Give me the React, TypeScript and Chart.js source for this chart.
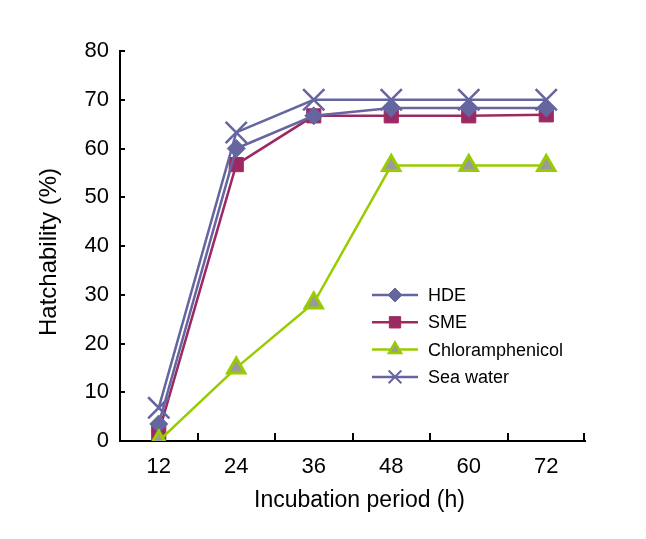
import React, { useEffect, useRef } from "react";
import { Chart, registerables } from "chart.js";

Chart.register(...registerables);

const categories = ["12", "24", "36", "48", "60", "72"];
const hde = [3.5, 60, 66.7, 68.3, 68.3, 68.3];
const sme = [1.7, 56.7, 66.7, 66.7, 66.7, 66.9];
const chloramphenicol = [0, 15, 28.3, 56.5, 56.5, 56.5];
const seaWater = [6.8, 63.3, 70, 70, 70, 70];
const yTicks = [0, 10, 20, 30, 40, 50, 60, 70, 80];
const xTitle = "Incubation period (h)";
const yTitle = "Hatchability (%)";

const BLUE = "#6565a0";
const MAROON = "#9c2a62";
const GREEN = "#99cc00";
const GRAY = "#9a9a9a";
const FONT = "'Liberation Sans', Arial, sans-serif";

function drawMarker(ctx: CanvasRenderingContext2D, style: string, x: number, y: number, r: number, fill: string, stroke: string, bw: number) {
  ctx.save();
  ctx.fillStyle = fill;
  ctx.strokeStyle = stroke;
  ctx.lineWidth = bw;
  ctx.beginPath();
  if (style === "rectRot") {
    ctx.moveTo(x, y - r);
    ctx.lineTo(x + r, y);
    ctx.lineTo(x, y + r);
    ctx.lineTo(x - r, y);
    ctx.closePath();
    ctx.fill();
    ctx.stroke();
  } else if (style === "rect") {
    const s = r * Math.SQRT1_2;
    ctx.rect(x - s, y - s, 2 * s, 2 * s);
    ctx.fill();
    ctx.stroke();
  } else if (style === "triangle") {
    const h = r * 0.866;
    ctx.moveTo(x, y - r);
    ctx.lineTo(x + h, y + r / 2);
    ctx.lineTo(x - h, y + r / 2);
    ctx.closePath();
    ctx.fill();
    ctx.stroke();
  } else if (style === "crossRot") {
    const s = r * Math.SQRT1_2;
    ctx.moveTo(x - s, y - s);
    ctx.lineTo(x + s, y + s);
    ctx.moveTo(x + s, y - s);
    ctx.lineTo(x - s, y + s);
    ctx.stroke();
  }
  ctx.restore();
}

const customPlugin = {
  id: "custom",
  afterDatasetsDraw(chart: any) {
    const ctx: CanvasRenderingContext2D = chart.ctx;
    const area = chart.chartArea;
    const xs = chart.scales.x;
    const ys = chart.scales.y;
    ctx.save();
    ctx.strokeStyle = "#000";
    ctx.lineWidth = 2;
    // y tick marks (inside)
    yTicks.forEach((v) => {
      if (v === 0) return;
      const py = Math.round(ys.getPixelForValue(v));
      ctx.beginPath();
      ctx.moveTo(area.left, py);
      ctx.lineTo(area.left + 5, py);
      ctx.stroke();
    });
    // x tick marks at category boundaries (inside)
    for (let i = 0; i < categories.length; i++) {
      let px;
      if (i < categories.length - 1) px = (xs.getPixelForValue(i) + xs.getPixelForValue(i + 1)) / 2;
      else px = area.right - 1;
      px = Math.round(px);
      ctx.beginPath();
      ctx.moveTo(px, area.bottom);
      ctx.lineTo(px, area.bottom - 8);
      ctx.stroke();
    }
    ctx.restore();

    // axis titles
    ctx.save();
    ctx.fillStyle = "#000";
    ctx.font = `23px ${FONT}`;
    ctx.textAlign = "center";
    ctx.textBaseline = "middle";
    ctx.fillText(xTitle, (area.left + area.right) / 2 + 7, area.bottom + 60);
    ctx.translate(49, (area.top + area.bottom) / 2 + 6);
    ctx.rotate(-Math.PI / 2);
    ctx.font = `24px ${FONT}`;
    ctx.fillText(yTitle, 0, 0);
    ctx.restore();

    // legend
    const rows = [
      { label: "HDE", color: BLUE, style: "rectRot", fill: BLUE, r: 7, bw: 1 },
      { label: "SME", color: MAROON, style: "rect", fill: MAROON, r: 8, bw: 1 },
      { label: "Chloramphenicol", color: GREEN, style: "triangle", fill: GRAY, r: 7, bw: 2.5 },
      { label: "Sea water", color: BLUE, style: "crossRot", fill: BLUE, r: 9, bw: 2 },
    ];
    const lx0 = 372;
    const lx1 = 418;
    const tx = 428;
    const y0 = 295;
    const dy = 27.3;
    rows.forEach((row, i) => {
      const y = y0 + i * dy;
      ctx.save();
      ctx.strokeStyle = row.color;
      ctx.lineWidth = 2.5;
      ctx.beginPath();
      ctx.moveTo(lx0, y);
      ctx.lineTo(lx1, y);
      ctx.stroke();
      ctx.restore();
      drawMarker(ctx, row.style, (lx0 + lx1) / 2, y, row.r, row.fill, row.color, row.bw);
      ctx.save();
      ctx.fillStyle = "#000";
      ctx.font = `18px ${FONT}`;
      ctx.textBaseline = "middle";
      ctx.textAlign = "left";
      ctx.fillText(row.label, tx, y + 1);
      ctx.restore();
    });
  },
};

export default function App() {
  const ref = useRef<HTMLCanvasElement | null>(null);

  useEffect(() => {
    if (!ref.current) return;
    const chart = new Chart(ref.current, {
      type: "line",
      data: {
        labels: categories,
        datasets: [
          {
            label: "HDE",
            data: hde,
            borderColor: BLUE,
            backgroundColor: BLUE,
            pointStyle: "rectRot",
            pointRadius: 9,
            pointBorderWidth: 1,
            borderWidth: 2.5,
            order: 2,
          },
          {
            label: "SME",
            data: sme,
            borderColor: MAROON,
            backgroundColor: MAROON,
            pointStyle: "rect",
            pointRadius: 10,
            pointBorderWidth: 1,
            borderWidth: 2.5,
            order: 3,
          },
          {
            label: "Chloramphenicol",
            data: chloramphenicol,
            borderColor: GREEN,
            backgroundColor: GRAY,
            pointBorderColor: GREEN,
            pointStyle: "triangle",
            pointRadius: 10,
            pointBorderWidth: 3,
            borderWidth: 2.5,
            order: 1,
          },
          {
            label: "Sea water",
            data: seaWater,
            borderColor: BLUE,
            backgroundColor: BLUE,
            pointStyle: "crossRot",
            pointRadius: 15,
            pointBorderWidth: 2.5,
            borderWidth: 2.5,
            order: 0,
          },
        ],
      },
      options: {
        responsive: true,
        maintainAspectRatio: false,
        animation: false,
        layout: { padding: { left: 0, right: 61, top: 51, bottom: 0 } },
        plugins: {
          legend: { display: false },
          tooltip: { enabled: false },
        },
        scales: {
          x: {
            type: "category",
            offset: true,
            grid: { display: false, drawTicks: false, offset: true },
            border: { display: true, color: "#000", width: 2 },
            ticks: { color: "#000", font: { size: 22, family: FONT }, padding: 13 },
            title: { display: false },
            afterFit: (scale: any) => {
              scale.height = 98;
            },
          },
          y: {
            min: 0,
            max: 80,
            grid: { display: false, drawTicks: false },
            border: { display: true, color: "#000", width: 2 },
            afterBuildTicks: (scale: any) => {
              scale.ticks = yTicks.map((v) => ({ value: v }));
            },
            ticks: { color: "#000", font: { size: 22, family: FONT }, padding: 11 },
            title: { display: false },
            afterFit: (scale: any) => {
              scale.width = 120;
            },
          },
        },
      },
      plugins: [customPlugin],
    });
    return () => chart.destroy();
  }, []);

  return (
    <div style={{ position: "absolute", left: 0, top: 0, width: 646, height: 539, background: "#fff" }}>
      <canvas ref={ref} />
    </div>
  );
}
